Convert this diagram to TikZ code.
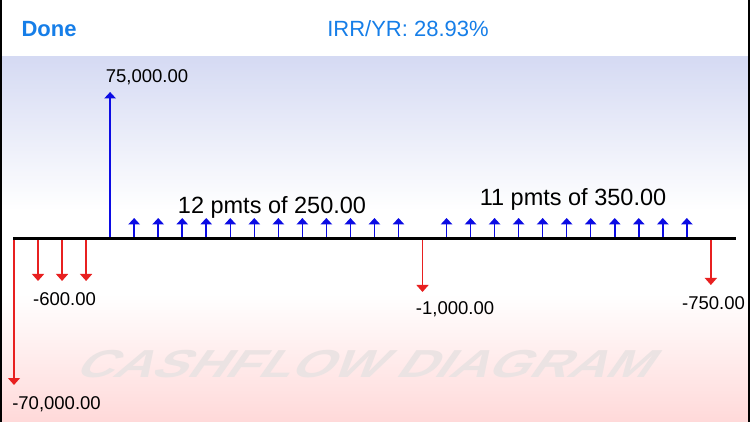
\documentclass[tikz,border=0pt]{standalone}
\usepackage{fontspec}
\setmainfont{Liberation Sans}
\usetikzlibrary{arrows.meta}
\definecolor{iosblue}{RGB}{22,126,232}
\definecolor{flowblue}{RGB}{12,12,228}
\definecolor{flowred}{RGB}{232,32,32}
\definecolor{topshade}{RGB}{213,218,243}
\definecolor{botshade}{RGB}{255,217,217}
\definecolor{wmfill}{RGB}{235,227,227}
\pgfdeclareverticalshading{cfbg}{100bp}{color(0bp)=(botshade); color(25bp)=(botshade); color(42.5bp)=(white); color(54bp)=(white); color(75bp)=(topshade); color(100bp)=(topshade)}
\begin{document}
\begin{tikzpicture}[x=1pt,y=-1pt,
  upflow/.style={draw=flowblue,line width=1.5pt,-{Triangle[width=11.5pt,length=6.5pt]}},
  downflow/.style={draw=flowred,line width=1.3pt,-{Triangle[width=12pt,length=7pt]}},
  val/.style={font=\fontsize{18.5}{20}\selectfont,anchor=base,inner sep=0pt},
  bigval/.style={font=\fontsize{23.5}{25}\selectfont,anchor=base,inner sep=0pt},
  hdr/.style={font=\fontsize{22}{24}\selectfont,text=iosblue,anchor=base,inner sep=0pt}]
\useasboundingbox (0,0) rectangle (750,422);
\fill[white] (0,0) rectangle (750,57);
\shade[shading=cfbg] (0,57) rectangle (750,422);
% watermark
\node[font=\fontsize{39}{40}\bfseries\selectfont, text=wmfill, xslant=0.7, xscale=1.36, inner sep=0pt] (wm) at (370,364) {CASHFLOW DIAGRAM};
% header
\node[hdr,font=\fontsize{22}{24}\bfseries\selectfont] (done) at (49,37) {Done};
\node[hdr] (irr) at (408,37) {IRR/YR: 28.93\%};
% axis coordinates
\foreach \t in {0,...,29} {
  \coordinate (b\t) at ({14+24.03*\t},239);
}
% outflows
\coordinate (e0) at (14,385);
\foreach \t in {1,2,3} { \coordinate (e\t) at ({14+24.03*\t},281); }
\coordinate (e17) at ({14+24.03*17},292);
\coordinate (e29) at ({14+24.03*29},285);
\foreach \t in {0,1,2,3,17,29} { \draw[downflow] (b\t) -- (e\t); }
% inflows
\coordinate (e4) at ({14+24.03*4},92);
\foreach \t in {5,...,16,18,19,...,28} { \coordinate (e\t) at ({14+24.03*\t},218); }
\foreach \t in {4,...,16,18,19,...,28} { \draw[upflow] (b\t) -- (e\t); }
% axis
\coordinate (axL) at (13,239);
\coordinate (axR) at (736,239);
\draw[line width=3pt] (axL) -- (axR);
% labels
\node[val] (l75) at (147,82.6) {75,000.00};
\node[val] (l600) at (64.5,305.6) {-600.00};
\node[val] (l70) at (56.5,409.6) {-70,000.00};
\node[val] (l1000) at (455,314.6) {-1,000.00};
\node[val] (l750) at (713.5,309.6) {-750.00};
\node[bigval] (p12) at (272,213.4) {12 pmts of 250.00};
\node[bigval] (p11) at (573,205.4) {11 pmts of 350.00};
% side borders
\draw[line width=2pt] (1,0) -- (1,422);
\draw[line width=2pt] (749,0) -- (749,422);
\end{tikzpicture}
\end{document}
